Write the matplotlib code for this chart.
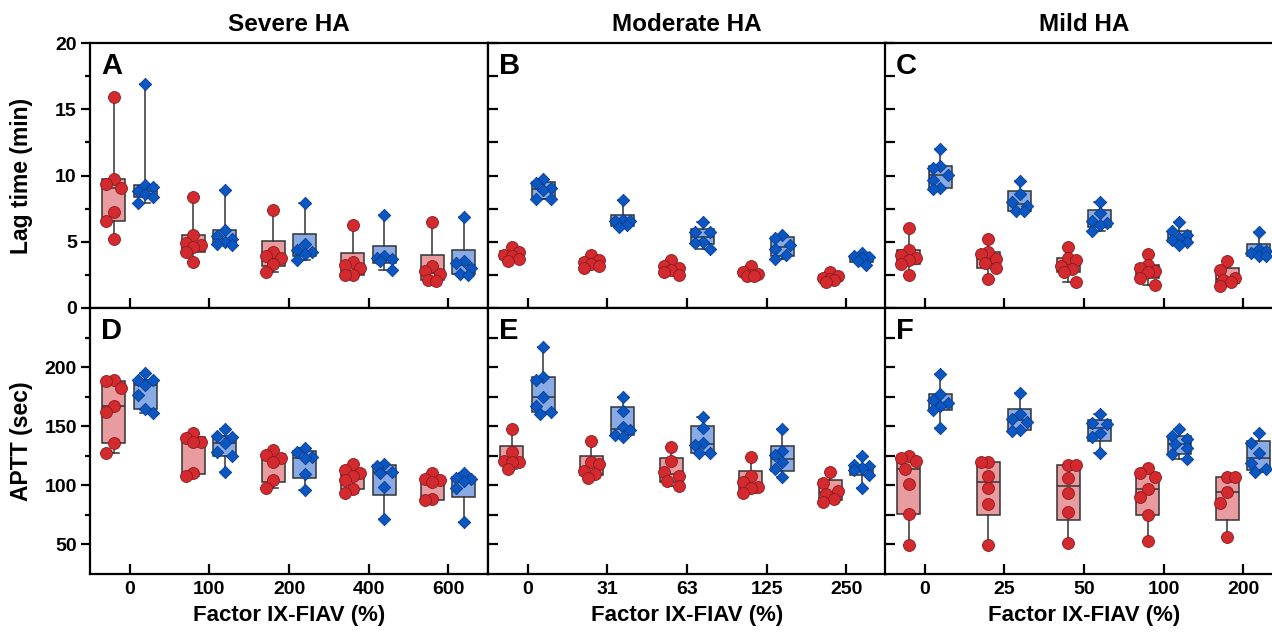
import numpy as np
import matplotlib
matplotlib.use("Agg")
import matplotlib.pyplot as plt
from matplotlib.ticker import MultipleLocator, FixedLocator

plt.rcParams['font.family'] = ['Liberation Sans', 'DejaVu Sans']
plt.rcParams['font.weight'] = 'bold'

# x tick labels: Factor IX-FIAV (%)
severe_doses = ['0', '100', '200', '400', '600']
moderate_doses = ['0', '31', '63', '125', '250']
mild_doses = ['0', '25', '50', '100', '200']
titles = ['Severe HA', 'Moderate HA', 'Mild HA']

# Lag time (min), one list per dose; red = circles, blue = diamonds
lag_severe_red = [[15.9, 9.76, 9.36, 9.08, 7.25, 6.57, 5.24],
                  [8.38, 5.49, 4.9, 4.74, 4.6, 4.24, 3.48],
                  [7.37, 4.26, 3.93, 3.81, 3.30, 2.73],
                  [6.24, 3.5, 3.23, 3.05, 2.5, 2.5],
                  [6.52, 3.2, 2.8, 2.55, 2.1, 2.05]]
lag_severe_blue = [[16.87, 9.28, 9.13, 8.83, 8.58, 8.38, 7.95],
                   [8.88, 5.87, 5.45, 5.2, 5.0, 4.86, 4.75],
                   [7.9, 4.81, 4.38, 4.2, 4.06, 3.63],
                   [7.02, 3.9, 3.81, 3.7, 3.56, 2.86],
                   [6.9, 3.56, 3.38, 3.05, 2.6, 2.5]]
lag_moderate_red = [[4.64, 4.2, 4.0, 3.9, 3.7, 3.55],
                    [3.98, 3.6, 3.5, 3.35, 3.2, 3.05],
                    [3.63, 3.15, 3.0, 2.9, 2.7, 2.5],
                    [3.18, 2.7, 2.6, 2.5, 2.45, 2.4],
                    [2.68, 2.4, 2.3, 2.2, 2.1, 2.0]]
lag_moderate_blue = [[9.76, 9.41, 9.08, 8.88, 8.2, 8.2],
                     [8.13, 6.65, 6.6, 6.55, 6.24, 6.1],
                     [6.52, 5.74, 5.74, 5.01, 4.94, 4.48],
                     [5.52, 5.26, 4.74, 4.43, 3.98, 3.73],
                     [4.14, 3.9, 3.85, 3.8, 3.55, 3.25]]
lag_mild_red = [[6.02, 4.39, 4.0, 3.8, 3.6, 3.3, 2.5],
                [5.24, 4.2, 4.06, 3.7, 3.4, 3.0, 2.22],
                [4.64, 3.75, 3.6, 3.2, 2.98, 2.7, 1.97],
                [4.11, 3.23, 3.0, 2.8, 2.68, 2.3, 1.72],
                [3.55, 2.88, 2.3, 2.1, 2.0, 1.67]]
lag_mild_blue = [[12.02, 10.72, 10.59, 10.04, 9.64, 9.08, 9.01],
                 [9.58, 8.58, 8.0, 7.7, 7.32, 7.32],
                 [8.0, 7.15, 6.6, 6.4, 6.24, 5.82],
                 [6.52, 5.8, 5.5, 5.3, 5.1, 5.0, 4.74],
                 [5.77, 4.48, 4.3, 4.18, 3.95, 3.9]]

# APTT (sec)
aptt_severe_red = [[189.1, 188.6, 182.7, 167.4, 161.8, 135.5, 127.1],
                   [144.6, 140, 137, 136.9, 110.1, 107.9],
                   [129.9, 125.6, 122.8, 119.4, 104.5, 98.0],
                   [117.7, 113, 110.7, 108, 104.5, 96.6, 93.7],
                   [110.1, 105, 104.5, 103, 88.1, 87.5]]
aptt_severe_blue = [[194.8, 189.1, 189.1, 184.9, 176.4, 164.3, 161.5],
                    [147.4, 141.7, 141.2, 135.5, 128.5, 124.8, 111.5],
                    [131.3, 127.9, 124, 122.8, 109.3, 96.0],
                    [118, 116.6, 111.5, 110.7, 98.8, 71.2],
                    [110.7, 106, 105, 104, 97.4, 69.2]]
aptt_moderate_red = [[147.4, 128.5, 120.6, 120, 120, 113.5],
                     [137.8, 120, 118, 112.4, 109.6, 105.9],
                     [132.1, 120.6, 111, 107.9, 103.9, 99.4],
                     [124.2, 107.9, 103, 98.8, 97.4, 93.2],
                     [111.5, 102.2, 95.4, 92.6, 88.1, 86.1]]
aptt_moderate_blue = [[216.8, 191.4, 189.1, 174.5, 167.4, 162.3, 160.1],
                      [174.5, 163.2, 149, 146.8, 142.6, 141.2],
                      [157.5, 148.2, 136.1, 134.1, 127.6, 127.1],
                      [147.4, 129, 125.6, 119.4, 113.5, 107.3],
                      [124.8, 117.5, 116.6, 114.4, 112.9, 108.7, 97.4]]
aptt_mild_red = [[125.1, 123.4, 120.6, 113.8, 100.8, 75.4, 49.4],
                 [120, 120, 108.1, 98, 83.9, 49.4],
                 [117.2, 117.2, 105.9, 93.7, 77.1, 50.8],
                 [114.4, 110.1, 107.3, 96.6, 90.4, 74.8, 53.1],
                 [107.3, 107.3, 94, 84.7, 56.5]]
aptt_mild_blue = [[194.2, 177, 172, 169.9, 167, 164, 148.8],
                  [177.9, 160.1, 156.5, 153.7, 146.8, 146],
                  [160.4, 153.1, 151.9, 144.6, 140.6, 127.1],
                  [147.4, 141.7, 138.9, 134.7, 131.3, 126.2, 122],
                  [144, 135.5, 127.1, 118.6, 113.5, 111]]

RED = '#d22a2e'
RED_EDGE = '#8c1c1f'
RED_BOX = '#e99ca0'
BLUE = '#0b56c1'
BLUE_EDGE = '#083f8f'
BLUE_BOX = '#88abe6'
DARK = '#333333'


def box_stats(vals):
    v = np.asarray(vals, dtype=float)
    q1, med, q3 = np.percentile(v, [25, 50, 75], method='weibull')
    return dict(med=med, q1=q1, q3=q3, whislo=v.min(), whishi=v.max(), fliers=[])


def spread(ax, x0, vals, diam):
    # simple swarm: put each point at the first slot that does not overlap
    placed, xs = [], []
    for v in vals:
        best_x, best_d = x0, -1.0
        for k in (0, -1, 1, -0.5, 0.5):
            x = x0 + k * 0.095
            p = ax.transData.transform((x, v))
            d = min((np.hypot(*(p - q)) for q in placed), default=1e9)
            if d >= diam:
                best_x, best_d = x, d
                break
            if d > best_d:
                best_x, best_d = x, d
        placed.append(ax.transData.transform((best_x, v)))
        xs.append(best_x)
    return xs


def draw_panel(ax, red, blue):
    for i, (r, b) in enumerate(zip(red, blue)):
        for vals, x0, face, edge, fill, marker, s, diam in (
                (r, i - 0.2, RED, RED_EDGE, RED_BOX, 'o', 74, 11.5),
                (b, i + 0.195, BLUE, BLUE_EDGE, BLUE_BOX, 'D', 40, 10.5)):
            ax.bxp([box_stats(vals)], positions=[x0], widths=0.29, capwidths=0.13,
                   patch_artist=True, showfliers=False, manage_ticks=False,
                   boxprops=dict(facecolor=fill, edgecolor=DARK, linewidth=1.1),
                   medianprops=dict(color=DARK, linewidth=1.1),
                   whiskerprops=dict(color=DARK, linewidth=1.1),
                   capprops=dict(color=DARK, linewidth=1.1))
            vs = sorted(vals, reverse=True)
            xs = spread(ax, x0, vs, diam)
            ax.scatter(xs, vs, s=s, marker=marker, c=face, edgecolors=edge,
                       linewidths=0.6, zorder=3)


W, H = 1272, 633
fig = plt.figure(figsize=(W / 100, H / 100), dpi=100)

lefts = [90, 488, 885]
rows = [(43, 308), (308, 574)]
panels = [[(lag_severe_red, lag_severe_blue), (lag_moderate_red, lag_moderate_blue),
           (lag_mild_red, lag_mild_blue)],
          [(aptt_severe_red, aptt_severe_blue), (aptt_moderate_red, aptt_moderate_blue),
           (aptt_mild_red, aptt_mild_blue)]]
doses = [severe_doses, moderate_doses, mild_doses]
letters = ['ABC', 'DEF']

for row, (top, bot) in enumerate(rows):
    for col, left in enumerate(lefts):
        ax = fig.add_axes([left / W, 1 - bot / H, 398 / W, (bot - top) / H])
        ax.set_xlim(-0.5, 4.5)
        if row == 0:
            ax.set_ylim(0, 20)
            ax.yaxis.set_major_locator(MultipleLocator(5))
            ax.yaxis.set_minor_locator(MultipleLocator(2.5))
        else:
            ax.set_ylim(25, 250)
            ax.yaxis.set_major_locator(FixedLocator([50, 100, 150, 200]))
            ax.yaxis.set_minor_locator(FixedLocator([75, 125, 175, 225]))

        red, blue = panels[row][col]
        draw_panel(ax, red, blue)

        for sp in ax.spines.values():
            sp.set_linewidth(1.6)
            sp.set_color('black')

        ax.set_xticks(range(5))
        ax.tick_params(axis='x', direction='in', length=7, width=1.6, pad=5,
                       labelsize=14)
        if row == 1:
            ax.set_xticklabels(doses[col], fontweight='bold')
            ax.set_xlabel('Factor IX-FIAV (%)', fontsize=16, fontweight='bold',
                          labelpad=5)
        else:
            ax.set_xticklabels([])
            ax.text(0.5, 1.068, titles[col], transform=ax.transAxes, ha='center',
                    va='center', fontsize=17.5, fontweight='bold')

        if col == 0:
            ax.tick_params(axis='y', which='major', direction='out', length=6.5,
                           width=1.6, pad=3, labelsize=14)
            ax.tick_params(axis='y', which='minor', direction='out', length=3.5,
                           width=1.6)
            ax.set_ylabel('Lag time (min)' if row == 0 else 'APTT (sec)',
                          fontsize=16.5, fontweight='bold')
            ax.yaxis.set_label_coords(-0.143, 0.5)
            for lab in ax.get_yticklabels():
                lab.set_fontweight('bold')
        else:
            ax.tick_params(axis='y', which='both', direction='in', length=7,
                           width=1.6, labelleft=False)

        ax.text(0.028, 0.965, letters[row][col], transform=ax.transAxes, ha='left',
                va='top', fontsize=21, fontweight='bold')

fig.savefig('out.png', dpi=100)
